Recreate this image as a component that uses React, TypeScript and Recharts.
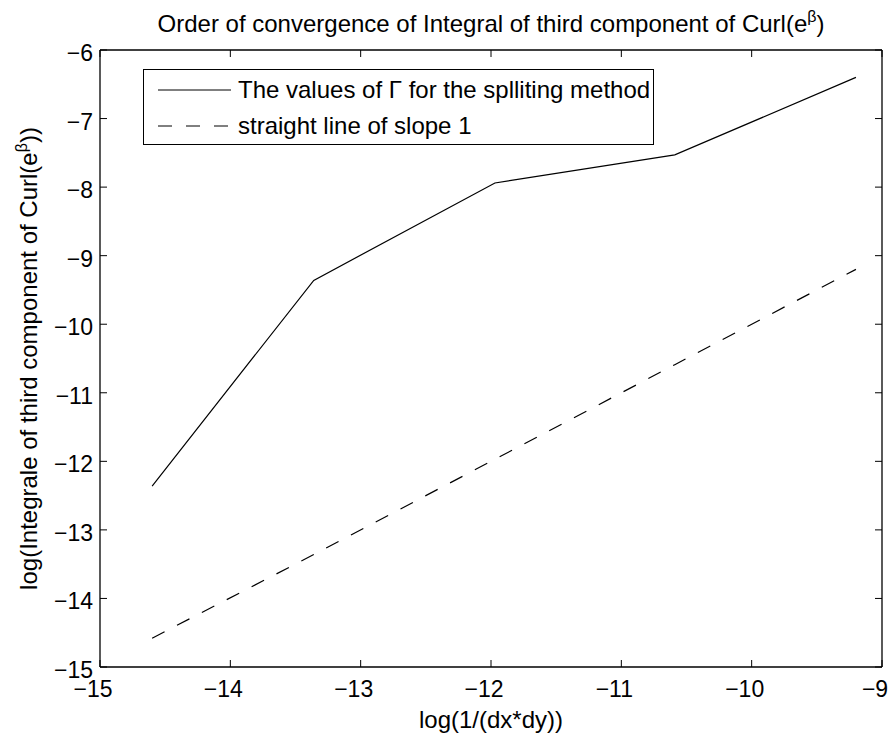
import { Label, Legend, Line, LineChart, XAxis, YAxis } from "recharts"

const FONT = "'Liberation Sans', Arial, Helvetica, sans-serif"

// log(1/(dx*dy)) for each mesh
const meshLogs = [-14.6, -13.36, -11.97, -10.59, -9.2]
// log of the integral (splitting method)
const gammaValues = [-12.36, -9.36, -7.94, -7.53, -6.4]
// reference line of slope 1
const slopeOneValues = [-14.58, -13.36, -11.97, -10.59, -9.2]

const xTicks = [-15, -14, -13, -12, -11, -10, -9]
const yTicks = [-15, -14, -13, -12, -11, -10, -9, -8, -7, -6]

const fmt = (v: number) => (v < 0 ? "\u2212" + Math.abs(v) : String(v))

const data = meshLogs.map((x, i) => ({ x, gamma: gammaValues[i], slope: slopeOneValues[i] }))

const AXIS = { stroke: "#000", strokeWidth: 1.3 }

// matlab style ticks: drawn inside the box
const BottomTick = ({ x, y, payload }: any) => (
  <g>
    <line x1={x} x2={x} y1={y} y2={y - 7} stroke="#000" />
    <text x={x - 7} y={y + 30} textAnchor="middle" fontSize={23} fontFamily={FONT} fill="#000">
      {fmt(payload.value)}
    </text>
  </g>
)
const LeftTick = ({ x, y, payload }: any) => (
  <g>
    <line x1={x} x2={x + 7} y1={y} y2={y} stroke="#000" />
    <text x={x - 7} y={y + 11} textAnchor="end" fontSize={23} fontFamily={FONT} fill="#000">
      {fmt(payload.value)}
    </text>
  </g>
)
const TopTick = ({ x, y }: any) => <line x1={x} x2={x} y1={y} y2={y + 7} stroke="#000" />
const RightTick = ({ x, y }: any) => <line x1={x} x2={x - 7} y1={y} y2={y} stroke="#000" />

const LegendBox = ({ payload }: any) => (
  <div
    style={{
      width: 511,
      height: 76,
      boxSizing: "border-box",
      border: "1px solid #000",
      background: "#fff",
      paddingTop: 2,
      fontFamily: FONT,
      fontSize: 24,
      color: "#000",
    }}
  >
    {(payload || []).map((entry: any) => (
      <div key={entry.value} style={{ display: "flex", alignItems: "center", height: 36, whiteSpace: "nowrap" }}>
        <svg width={94} height={10} style={{ flex: "none" }}>
          <line
            x1={14}
            x2={87}
            y1={5}
            y2={5}
            stroke="#000"
            strokeWidth={1}
            strokeDasharray={entry.payload?.strokeDasharray}
          />
        </svg>
        <span>{entry.value}</span>
      </div>
    ))}
  </div>
)

export default function App() {
  return (
    <div style={{ position: "absolute", left: 0, top: 0, width: 892, height: 735, background: "#fff" }}>
      <LineChart width={892} height={735} data={data} margin={{ top: 49, right: 9, bottom: 0, left: 0 }}>
        <XAxis
          xAxisId="b"
          dataKey="x"
          type="number"
          domain={[-15, -9]}
          ticks={xTicks}
          interval={0}
          allowDataOverflow
          tickLine={false}
          tickSize={0}
          tickMargin={0}
          tick={BottomTick}
          height={68}
          axisLine={AXIS}
        >
          <Label
            content={({ viewBox }: any) => (
              <text
                x={viewBox.x + viewBox.width / 2}
                y={viewBox.y + 61}
                textAnchor="middle"
                fontSize={24}
                fontFamily={FONT}
                fill="#000"
              >
                log(1/(dx*dy))
              </text>
            )}
          />
        </XAxis>
        <XAxis
          xAxisId="t"
          orientation="top"
          dataKey="x"
          type="number"
          domain={[-15, -9]}
          ticks={xTicks}
          interval={0}
          allowDataOverflow
          tickLine={false}
          tickSize={0}
          tickMargin={0}
          tick={TopTick}
          height={1}
          axisLine={AXIS}
        >
          <Label
            content={({ viewBox }: any) => (
              <text
                x={viewBox.x + viewBox.width / 2}
                y={32}
                textAnchor="middle"
                fontSize={24}
                fontFamily={FONT}
                fill="#000"
              >
                Order of convergence of Integral of third component of Curl(e
                <tspan dy={-10} fontSize={16}>β</tspan>
                <tspan dy={10}>)</tspan>
              </text>
            )}
          />
        </XAxis>
        <YAxis
          yAxisId="l"
          type="number"
          domain={[-15, -6]}
          ticks={yTicks}
          interval={0}
          allowDataOverflow
          tickLine={false}
          tickSize={0}
          tickMargin={0}
          tick={LeftTick}
          width={100}
          axisLine={AXIS}
        >
          <Label
            content={({ viewBox }: any) => {
              const cx = viewBox.x + 37
              const cy = viewBox.y + viewBox.height / 2
              return (
                <text
                  x={cx}
                  y={cy}
                  transform={`rotate(-90 ${cx} ${cy})`}
                  textAnchor="middle"
                  fontSize={24}
                  fontFamily={FONT}
                  fill="#000"
                >
                  log(Integrale of third component of Curl(e
                  <tspan dy={-10} fontSize={16}>β</tspan>
                  <tspan dy={10}>))</tspan>
                </text>
              )
            }}
          />
        </YAxis>
        <YAxis
          yAxisId="r"
          orientation="right"
          type="number"
          domain={[-15, -6]}
          ticks={yTicks}
          interval={0}
          allowDataOverflow
          tickLine={false}
          tickSize={0}
          tickMargin={0}
          tick={RightTick}
          width={1}
          axisLine={AXIS}
        />
        <Line
          xAxisId="b"
          yAxisId="l"
          dataKey="gamma"
          name="The values of Γ for the splliting method"
          stroke="#000"
          strokeWidth={1.2}
          dot={false}
          isAnimationActive={false}
        />
        <Line
          xAxisId="t"
          yAxisId="r"
          dataKey="slope"
          name="straight line of slope 1"
          stroke="#000"
          strokeWidth={1.2}
          strokeDasharray="14 14"
          dot={false}
          isAnimationActive={false}
        />
        <Legend
          layout="horizontal"
          verticalAlign="middle"
          align="center"
          content={<LegendBox />}
          wrapperStyle={{ left: 143, top: 69, width: 511, height: 76 }}
        />
      </LineChart>
    </div>
  )
}
